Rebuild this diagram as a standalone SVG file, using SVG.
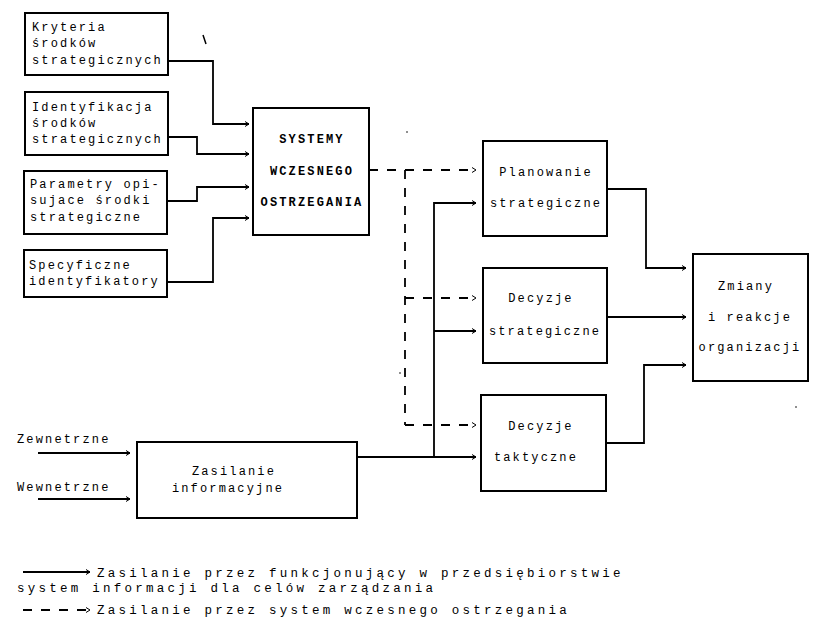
<svg xmlns="http://www.w3.org/2000/svg" width="818" height="624" viewBox="0 0 818 624">
<style>
  .box { fill: #fff; stroke: #000; stroke-width: 2; }
  .t { font-family: "Liberation Mono", "DejaVu Sans Mono", monospace; font-size: 12px; letter-spacing: 2.15px; fill: #000; }
  .tb { font-weight: bold; }
  .c { text-anchor: middle; }
  .lg { font-family: "Liberation Mono", "DejaVu Sans Mono", monospace; font-size: 12.5px; letter-spacing: 3.25px; fill: #000; }
  .s { fill: none; stroke: #000; stroke-width: 1.8; }
  .d { fill: none; stroke: #000; stroke-width: 1.8; stroke-dasharray: 9 9; }
</style>
<defs>
  <marker id="ah" markerWidth="8" markerHeight="8" refX="6" refY="4" orient="auto" markerUnits="userSpaceOnUse">
    <path d="M2,1.5 L6,4 L2,6.5" fill="none" stroke="#000" stroke-width="1"/>
  </marker>
</defs>
<rect width="818" height="624" fill="#fff"/>

<g id="connectors">
  <!-- inputs to SYSTEMY -->
  <polyline class="s" points="168,61 213,61 213,124 249,124" marker-end="url(#ah)"/>
  <polyline class="s" points="168,137 197,137 197,154 249,154" marker-end="url(#ah)"/>
  <polyline class="s" points="167,201 197,201 197,187 249,187" marker-end="url(#ah)"/>
  <polyline class="s" points="167,282 213,282 213,218 249,218" marker-end="url(#ah)"/>
  <!-- dashed early warning -->
  <line class="d" x1="369" y1="170" x2="476" y2="170" marker-end="url(#ah)"/>
  <line class="d" x1="405" y1="170" x2="405" y2="425"/>
  <line class="d" x1="405" y1="298" x2="476" y2="298" marker-end="url(#ah)"/>
  <line class="d" x1="405" y1="425" x2="476" y2="425" marker-end="url(#ah)"/>
  <!-- solid from Zasilanie -->
  <line class="s" x1="357" y1="457" x2="476" y2="457" marker-end="url(#ah)"/>
  <polyline class="s" points="434,457 434,203 476,203" marker-end="url(#ah)"/>
  <line class="s" x1="434" y1="331" x2="476" y2="331" marker-end="url(#ah)"/>
  <!-- to Zmiany -->
  <polyline class="s" points="607,189 646,189 646,268 686,268" marker-end="url(#ah)"/>
  <line class="s" x1="607" y1="317" x2="686" y2="317" marker-end="url(#ah)"/>
  <polyline class="s" points="606,443 644,443 644,365 686,365" marker-end="url(#ah)"/>
  <!-- external / internal inputs -->
  <line class="s" x1="38" y1="453" x2="130" y2="453" marker-end="url(#ah)"/>
  <line class="s" x1="38" y1="499" x2="130" y2="499" marker-end="url(#ah)"/>
</g>

<g id="kryteria">
  <rect class="box" x="25" y="13" width="143" height="62"/>
  <text class="t" x="32" y="31">Kryteria</text>
  <text class="t" x="32" y="47">środków</text>
  <text class="t" x="32" y="64">strategicznych</text>
</g>
<g id="identyfikacja">
  <rect class="box" x="25" y="92" width="143" height="63"/>
  <text class="t" x="32" y="111">Identyfikacja</text>
  <text class="t" x="32" y="127">środków</text>
  <text class="t" x="32" y="143">strategicznych</text>
</g>
<g id="parametry">
  <rect class="box" x="24" y="171" width="143" height="63"/>
  <text class="t" x="30" y="188">Parametry opi-</text>
  <text class="t" x="30" y="204">sujace środki</text>
  <text class="t" x="30" y="221">strategiczne</text>
</g>
<g id="specyficzne">
  <rect class="box" x="24" y="250" width="143" height="47"/>
  <text class="t" x="29" y="269">Specyficzne</text>
  <text class="t" x="29" y="285">identyfikatory</text>
</g>
<g id="systemy">
  <rect class="box" x="253" y="108" width="116" height="127"/>
  <text class="t tb c" x="312" y="143">SYSTEMY</text>
  <text class="t tb c" x="312" y="175">WCZESNEGO</text>
  <text class="t tb c" x="312" y="206">OSTRZEGANIA</text>
</g>
<g id="planowanie">
  <rect class="box" x="483" y="141" width="124" height="95"/>
  <text class="t c" x="546" y="176">Planowanie</text>
  <text class="t c" x="546" y="207">strategiczne</text>
</g>
<g id="decyzje-strategiczne">
  <rect class="box" x="483" y="268" width="124" height="95"/>
  <text class="t c" x="541" y="302">Decyzje</text>
  <text class="t c" x="545" y="335">strategiczne</text>
</g>
<g id="decyzje-taktyczne">
  <rect class="box" x="481" y="395" width="125" height="96"/>
  <text class="t c" x="541" y="430">Decyzje</text>
  <text class="t c" x="536" y="461">taktyczne</text>
</g>
<g id="zmiany">
  <rect class="box" x="693" y="254" width="115" height="127"/>
  <text class="t c" x="746" y="290">Zmiany</text>
  <text class="t c" x="750" y="321">i reakcje</text>
  <text class="t c" x="750" y="351">organizacji</text>
</g>
<g id="zasilanie">
  <rect class="box" x="137" y="442" width="220" height="76"/>
  <text class="t c" x="234" y="475">Zasilanie</text>
  <text class="t c" x="228" y="492">informacyjne</text>
</g>
<g id="inputs-labels">
  <text class="t" x="17" y="443">Zewnetrzne</text>
  <text class="t" x="17" y="491">Wewnetrzne</text>
</g>

<g id="legend">
  <line class="s" x1="23" y1="572" x2="90" y2="572" marker-end="url(#ah)"/>
  <text class="lg" x="97" y="577">Zasilanie przez funkcjonujący w przedsiębiorstwie</text>
  <text class="lg" x="17" y="592">system informacji dla celów zarządzania</text>
  <line class="d" x1="23" y1="610" x2="90" y2="610" stroke-dasharray="7 7" marker-end="url(#ah)"/>
  <text class="lg" x="97" y="614">Zasilanie przez system wczesnego ostrzegania</text>
</g>

<g id="marks">
  <line x1="203" y1="35" x2="206" y2="44" stroke="#000" stroke-width="1.5"/>
  <circle cx="407" cy="132" r="0.8" fill="#000"/>
  <circle cx="400" cy="373" r="0.8" fill="#000"/>
  <circle cx="796" cy="407" r="0.8" fill="#000"/>
</g>
</svg>
